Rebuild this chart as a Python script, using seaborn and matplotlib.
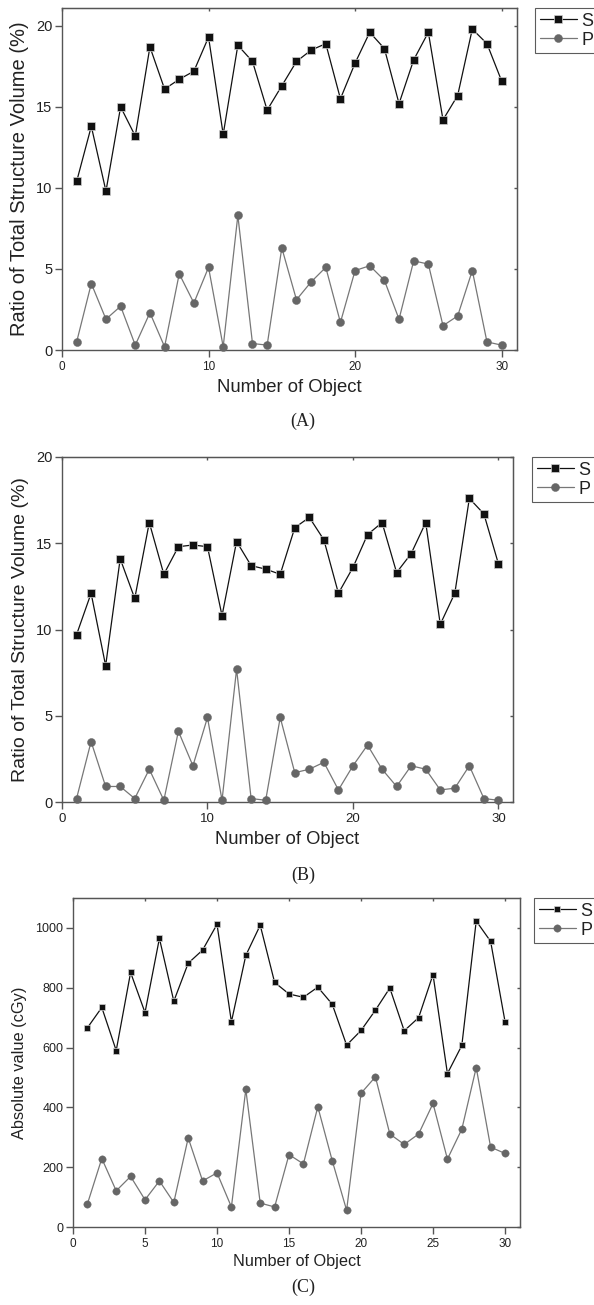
import numpy as np
import pandas as pd
import matplotlib
matplotlib.use("Agg")
import matplotlib.pyplot as plt
import seaborn as sns

OUT_FILE = "out.png"

# object numbers 1..30
OBJECTS = list(range(1, 31))

# panel A: ratio of total structure volume (%)
A_S = [10.4, 13.8, 9.8, 15.0, 13.2, 18.7, 16.1, 16.7, 17.2, 19.3,
       13.3, 18.8, 17.8, 14.8, 16.3, 17.8, 18.5, 18.9, 15.5, 17.7,
       19.6, 18.6, 15.2, 17.9, 19.6, 14.2, 15.7, 19.8, 18.9, 16.6]
A_P = [0.5, 4.1, 1.9, 2.7, 0.3, 2.3, 0.2, 4.7, 2.9, 5.1,
       0.2, 8.3, 0.4, 0.3, 6.3, 3.1, 4.2, 5.1, 1.7, 4.9,
       5.2, 4.3, 1.9, 5.5, 5.3, 1.5, 2.1, 4.9, 0.5, 0.3]

# panel B: ratio of total structure volume (%)
B_S = [9.7, 12.1, 7.9, 14.1, 11.8, 16.2, 13.2, 14.8, 14.9, 14.8,
       10.8, 15.1, 13.7, 13.5, 13.2, 15.9, 16.5, 15.2, 12.1, 13.6,
       15.5, 16.2, 13.3, 14.4, 16.2, 10.3, 12.1, 17.6, 16.7, 13.8]
B_P = [0.2, 3.5, 0.9, 0.9, 0.2, 1.9, 0.1, 4.1, 2.1, 4.9,
       0.1, 7.7, 0.2, 0.1, 4.9, 1.7, 1.9, 2.3, 0.7, 2.1,
       3.3, 1.9, 0.9, 2.1, 1.9, 0.7, 0.8, 2.1, 0.2, 0.1]

# panel C: absolute value (cGy)
C_S = [666, 734, 590, 851, 717, 965, 755, 882, 926, 1012,
       686, 908, 1009, 818, 779, 768, 802, 745, 608, 657,
       725, 799, 656, 700, 844, 513, 607, 1023, 955, 687]
C_P = [77, 229, 121, 169, 91, 154, 82, 298, 154, 181,
       67, 460, 80, 67, 242, 211, 402, 222, 56, 447,
       502, 311, 276, 311, 413, 227, 327, 533, 267, 246]

SPINE = "#555555"
TEXT = "#222222"


def draw_series(ax, s_vals, p_vals, ms_sq, ms_ci):
    sns.lineplot(x=OBJECTS, y=s_vals, ax=ax, color="#111111", lw=0.9,
                 marker="s", markersize=ms_sq, mec="#cfcfcf", mew=0.5,
                 label="S", clip_on=False, zorder=4)
    sns.lineplot(x=OBJECTS, y=p_vals, ax=ax, color="#777777", lw=0.9,
                 marker="o", markersize=ms_ci, mfc="#666666", mec="#666666",
                 mew=0.3, label="P", clip_on=False, zorder=3)


def style_axes(ax, xticks, yticks, xlim, ylim, xsize, ysize):
    ax.set_xlim(*xlim)
    ax.set_ylim(*ylim)
    ax.set_xticks(xticks)
    ax.set_yticks(yticks)
    for sp in ax.spines.values():
        sp.set_color(SPINE)
        sp.set_linewidth(1.0)
    ax.tick_params(axis="x", direction="out", length=5, width=1, color=SPINE,
                   labelsize=xsize, labelcolor=TEXT, pad=3)
    ax.tick_params(axis="y", direction="out", length=5, width=1, color=SPINE,
                   labelsize=ysize, labelcolor=TEXT, pad=2)
    # inward mirror ticks on top and right
    top = ax.secondary_xaxis("top")
    top.set_xticks(xticks)
    top.tick_params(direction="in", length=2.5, width=1, color=SPINE, labeltop=False)
    top.spines["top"].set_color(SPINE)
    right = ax.secondary_yaxis("right")
    right.set_yticks(yticks)
    right.tick_params(direction="in", length=2.5, width=1, color=SPINE, labelright=False)
    right.spines["right"].set_color(SPINE)


def add_legend(ax, x_anchor):
    leg = ax.legend(loc="upper left", bbox_to_anchor=(x_anchor, 1.0),
                    borderaxespad=0, frameon=True, fancybox=False,
                    fontsize=13, handlelength=2.1, handletextpad=0.2,
                    labelspacing=0.12, borderpad=0.25)
    leg.get_frame().set_edgecolor("#333333")
    leg.get_frame().set_linewidth(0.8)
    for t in leg.get_texts():
        t.set_color(TEXT)


def main():
    sns.set_style("ticks")
    plt.rcParams["font.family"] = ["Liberation Sans", "DejaVu Sans"]

    fig = plt.figure(figsize=(5.94, 13.05), dpi=100)
    W, H = 594.0, 1305.0

    def box(l, t, r, b):
        return [l / W, 1 - b / H, (r - l) / W, (b - t) / H]

    # (A)
    ax = fig.add_axes(box(62, 8, 517, 350))
    draw_series(ax, A_S, A_P, 5.3, 5.8)
    style_axes(ax, [0, 10, 20, 30], [0, 5, 10, 15, 20], (0, 31.05), (0, 21.1), 8.5, 10.5)
    ax.set_xlabel("Number of Object", fontsize=13.3, color=TEXT, labelpad=4)
    ax.set_ylabel("Ratio of Total Structure Volume (%)", fontsize=14.5, color=TEXT)
    ax.yaxis.set_label_coords(-0.0725, 0.5)
    add_legend(ax, (535 - 62) / 455)
    fig.text(303 / W, 1 - 421 / H, "(A)", ha="center", va="center",
             family="Liberation Serif", fontsize=13, color=TEXT)

    # (B)
    ax = fig.add_axes(box(62, 457, 513, 802))
    draw_series(ax, B_S, B_P, 5.3, 5.8)
    style_axes(ax, [0, 10, 20, 30], [0, 5, 10, 15, 20], (0, 31.0), (0, 20), 9.5, 10.5)
    ax.set_xlabel("Number of Object", fontsize=13.2, color=TEXT, labelpad=4)
    ax.set_ylabel("Ratio of Total Structure Volume (%)", fontsize=14, color=TEXT)
    ax.yaxis.set_label_coords(-0.0725, 0.5)
    add_legend(ax, (532 - 62) / 451)
    fig.text(303 / W, 1 - 875 / H, "(B)", ha="center", va="center",
             family="Liberation Serif", fontsize=13, color=TEXT)

    # (C)
    ax = fig.add_axes(box(73, 898, 520, 1227))
    draw_series(ax, C_S, C_P, 4.8, 5.3)
    style_axes(ax, [0, 5, 10, 15, 20, 25, 30], [0, 200, 400, 600, 800, 1000],
               (0, 31.04), (0, 1100), 8.5, 9)
    ax.set_xlabel("Number of Object", fontsize=11.7, color=TEXT, labelpad=3)
    ax.set_ylabel("Absolute value (cGy)", fontsize=11.8, color=TEXT)
    ax.yaxis.set_label_coords(-0.102, 0.5)
    add_legend(ax, (534 - 73) / 447)
    fig.text(303 / W, 1 - 1287 / H, "(C)", ha="center", va="center",
             family="Liberation Serif", fontsize=13, color=TEXT)

    fig.savefig(OUT_FILE, dpi=100)
    plt.close(fig)


if __name__ == "__main__":
    main()
